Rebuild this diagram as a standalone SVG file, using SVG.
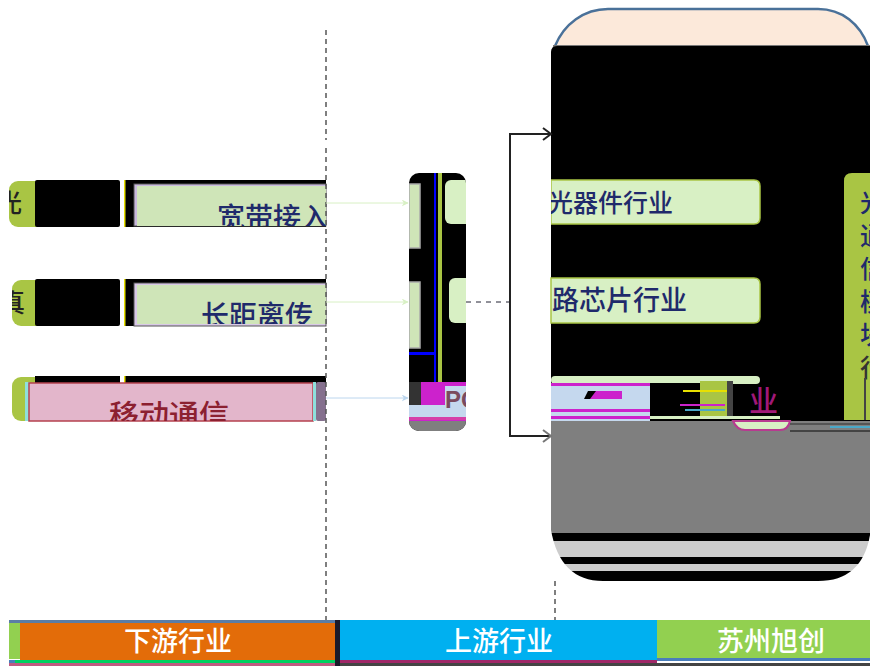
<svg xmlns="http://www.w3.org/2000/svg" width="870" height="668" viewBox="0 0 870 668">
<style>
text{font-family:"Noto Sans CJK SC","Liberation Sans",sans-serif;fill:#1f2a6b;font-weight:500}
.w{fill:#fff;font-size:27px;text-anchor:middle}
.g{fill:#d8f0c4}
.lg{fill:#cfe5b8}
.o{fill:#a9c544}
</style>
<defs>
<clipPath id="big2"><path d="M551 52Q551 46 557 46H870V535Q862 581 818 581H603Q560 581 551 530Z"/></clipPath>
<clipPath id="c1"><rect x="137" y="185" width="189" height="41"/></clipPath>
<clipPath id="c2"><rect x="137" y="284" width="189" height="40"/></clipPath>
<clipPath id="c3"><rect x="29" y="384" width="284" height="37"/></clipPath>
<clipPath id="s1"><rect x="9" y="181" width="27" height="46" rx="9"/></clipPath>
<clipPath id="s2"><rect x="12" y="280" width="24" height="46" rx="9"/></clipPath>
<clipPath id="mid"><rect x="409" y="173" width="57" height="258" rx="10"/></clipPath>
<clipPath id="gr"><rect x="844" y="173" width="26" height="248"/></clipPath>
<marker id="a" viewBox="0 0 10 10" refX="9" refY="5" markerWidth="7" markerHeight="7" orient="auto"><path d="M0 0L10 5L0 10L3 5Z" fill="#d8f0c4"/></marker>
<marker id="ab" viewBox="0 0 10 10" refX="9" refY="5" markerWidth="7" markerHeight="7" orient="auto"><path d="M0 0L10 5L0 10L3 5Z" fill="#bcd6ee"/></marker>
</defs>

<g id="peach"><path d="M555 46C564 24 584 9 608 9H818C842 9 860 24 868 46Z" fill="#fce9da"/><path d="M555 46C564 24 584 9 608 9H818C842 9 860 24 868 46" fill="none" stroke="#4a7199" stroke-width="2.5"/><rect x="553" y="45" width="317" height="3" fill="#777"/></g>

<g id="upstream-panel">
<g clip-path="url(#big2)">
<rect x="551" y="46" width="319" height="375" fill="#000"/>
<rect x="551" y="421" width="319" height="112" fill="#7f7f7f"/>
<rect x="551" y="533" width="319" height="8" fill="#000"/>
<rect x="551" y="541" width="319" height="16" fill="#ccc"/>
<rect x="551" y="557" width="319" height="7" fill="#000"/>
<rect x="551" y="564" width="319" height="7" fill="#ccc"/>
<rect x="551" y="571" width="319" height="10" fill="#000"/>
</g>
</g>

<g id="row1-left">
<rect x="9" y="181" width="40" height="46" rx="9" class="o"/>
<text x="-3" y="212" font-size="25" style="fill:#222" clip-path="url(#s1)">光</text>
<rect x="35" y="180" width="85" height="47" rx="2" fill="#000"/>
<rect x="124" y="180" width="202" height="47" fill="#000"/><rect x="124" y="180" width="1.5" height="47" fill="#e8e000"/>
<rect x="134" y="184" width="192" height="42" fill="#c8b8dc" stroke="#555"/>
<rect x="137" y="186" width="189" height="40" class="lg"/>
<text x="217" y="228" font-size="28" clip-path="url(#c1)">宽带接入</text>
</g>

<g id="row2-left">
<rect x="12" y="280" width="40" height="46" rx="9" class="o"/>
<text x="0" y="312" font-size="25" style="fill:#222" clip-path="url(#s2)">真</text>
<rect x="35" y="279" width="85" height="47" rx="2" fill="#000"/>
<rect x="124" y="279" width="202" height="47" fill="#000"/><rect x="124" y="279" width="1.5" height="47" fill="#e8e000"/>
<rect x="134" y="283" width="192" height="43" fill="#d8c8e6" stroke="#555"/>
<rect x="137" y="285" width="189" height="39" class="lg"/>
<text x="201" y="326" font-size="28" clip-path="url(#c2)">长距离传</text>
</g>

<g id="row3-left">
<rect x="12" y="377" width="40" height="44" rx="9" class="o"/>
<rect x="35" y="376" width="85" height="12" fill="#000"/>
<rect x="124" y="376" width="202" height="12" fill="#000"/><rect x="124" y="376" width="1.5" height="12" fill="#e8e000"/>
<rect x="25" y="382" width="5" height="39" fill="#8ee0dc"/>
<rect x="29" y="383" width="284" height="38" fill="#e3b6cb" stroke="#b5424f" stroke-width="1.5"/>
<text x="109" y="426" font-size="30" style="fill:#8c2030" clip-path="url(#c3)">移动通信</text>
<rect x="313" y="382" width="3" height="39" fill="#8ee0dc"/>
<rect x="316" y="382" width="10" height="39" rx="2" fill="#85708e"/>
</g>

<g id="middle-block">
<g clip-path="url(#mid)">
<rect x="409" y="173" width="57" height="258" fill="#000"/>
<rect x="434" y="173" width="2" height="210" fill="#00f"/>
<rect x="438" y="173" width="4" height="210" fill="#a9c544"/>
<rect x="409" y="184" width="11" height="64" class="lg" stroke="#aaa" stroke-width="1.5"/>
<rect x="409" y="282" width="11" height="66" class="lg" stroke="#aaa" stroke-width="1.5"/>
<rect x="409" y="352" width="25" height="3" fill="#00f"/>
<rect x="445" y="180" width="40" height="44" rx="6" class="g"/>
<rect x="449" y="278" width="40" height="45" rx="6" class="g"/>
<rect x="409" y="382" width="57" height="39" fill="#cc22cc"/>
<rect x="409" y="382" width="12" height="25" fill="#333"/>
<rect x="409" y="405" width="57" height="12" fill="#c5d8ee"/>
<rect x="409" y="417" width="57" height="3" fill="#d63fa8"/>
<rect x="409" y="421" width="57" height="10" fill="#7f7f7f"/>
<rect x="445" y="386" width="21" height="26" fill="#c5d8ee"/>
<text x="445" y="408" font-size="24" style="font-family:'Liberation Sans',sans-serif;font-weight:700;fill:#7a4a5e">PC</text>
</g>
</g>

<g id="node-optical">
<path d="M551 180H754Q760 180 760 186V218Q760 224 754 224H551Z" class="g" stroke="#a9c544" stroke-width="1.5"/>
<text x="548" y="212" font-size="25">光器件行业</text>
<rect x="466" y="173" width="43" height="258" fill="#fff"/>
<rect x="511" y="160" width="40" height="270" fill="#fff"/>
</g>

<g id="node-chip">
<path d="M551 278H754Q760 278 760 284V317Q760 323 754 323H551Z" class="g" stroke="#a9c544" stroke-width="1.5"/>
<text x="552" y="310" font-size="27">路芯片行业</text>
</g>

<g id="node-third">
<rect x="551" y="376" width="209" height="8" rx="4" class="g"/>
<rect x="551" y="383" width="99" height="38" fill="#c5d8ee"/>
<rect x="551" y="383" width="99" height="3" fill="#cc22cc"/>
<rect x="551" y="409" width="99" height="3" fill="#cc22cc"/>
<rect x="551" y="416" width="99" height="3" fill="#cc22cc"/>
<path d="M592 391H622V399H586Z" fill="#cc22cc"/><path d="M588 391H596L590 399H584Z" fill="#000"/>
<rect x="511" y="383" width="40" height="38" fill="#fff"/>
<rect x="650" y="383" width="50" height="34" fill="#000"/>
<rect x="700" y="381" width="28" height="36" fill="#a9c544"/>
<rect x="683" y="390" width="45" height="2" fill="#e8e000"/>
<rect x="680" y="404" width="45" height="2" fill="#cc22cc"/>
<rect x="685" y="409" width="40" height="2" fill="#4aa8c8"/>
<rect x="727" y="381" width="6" height="36" fill="#444"/>
<text x="749" y="412" font-size="29" style="fill:#a01878">业</text>
<path d="M733 421Q737 430 745 430H780Q788 430 790 421Z" fill="#d8f0c4" stroke="#b83a90" stroke-width="2"/>
<rect x="650" y="416" width="130" height="3" fill="#d8f0c4"/>
<rect x="790" y="423" width="80" height="2" fill="#555"/>
<rect x="830" y="426" width="40" height="2" fill="#4aa8c8"/>
<rect x="790" y="430" width="80" height="2" fill="#444"/>
</g>

<g id="node-module">
<path d="M844 420V181Q844 173 852 173H870V420Z" class="o"/>
<g font-size="25" clip-path="url(#gr)">
<text x="860" y="212">光</text><text x="860" y="245">通</text><text x="860" y="278">信</text><text x="860" y="311">模</text><text x="860" y="344">块</text><text x="860" y="377" style="fill:#333">行</text>
</g>
<rect x="864" y="378" width="2" height="42" fill="#444"/>
</g>

<g id="connectors" fill="none">
<path d="M326 30V140M326 148V620" stroke="#555" stroke-width="1.5" stroke-dasharray="5 4"/>
<path d="M555 581V620" stroke="#555" stroke-width="1.5" stroke-dasharray="5 4"/>
<path d="M326 203H408" stroke="#d8f0c4" marker-end="url(#a)"/>
<path d="M326 302H408" stroke="#d8f0c4" marker-end="url(#a)"/>
<path d="M326 398H408" stroke="#bcd6ee" marker-end="url(#ab)"/>
<path d="M466 302H509" stroke="#223" stroke-dasharray="5 5"/>
<path d="M551 134H510V436H551" stroke="#222" stroke-width="2"/>
<path d="M543 128L551 134L543 140" stroke="#222" stroke-width="2"/>
<path d="M543 430L551 436L543 442" stroke="#777" stroke-width="2"/>
</g>

<g id="bar-downstream">
<rect x="9" y="620" width="11" height="39" fill="#92d050"/>
<rect x="9" y="620" width="326" height="3" fill="#5b7da6"/>
<rect x="20" y="623" width="315" height="37" fill="#e36c09"/>
<rect x="9" y="660" width="6" height="3" fill="#4a7ebb"/>
<rect x="15" y="660" width="320" height="3" fill="#00d060"/>
<rect x="9" y="663" width="330" height="3" fill="#c05a80"/>
<rect x="335" y="620" width="5" height="46" fill="#1a1a2a"/>
<text x="178" y="651" class="w">下游行业</text>
</g>
<g id="bar-upstream">
<rect x="340" y="620" width="317" height="41" fill="#00b0f0"/>
<rect x="340" y="660" width="317" height="3" fill="#a02868"/>
<rect x="340" y="663" width="530" height="3" fill="#444"/>
<text x="499" y="651" class="w">上游行业</text>
</g>
<g id="bar-suzhou">
<rect x="657" y="620" width="213" height="38" fill="#92d050"/>
<rect x="657" y="658" width="213" height="3" fill="#4a7ebb"/>
<text x="771" y="651" class="w">苏州旭创</text>
</g>
</svg>
